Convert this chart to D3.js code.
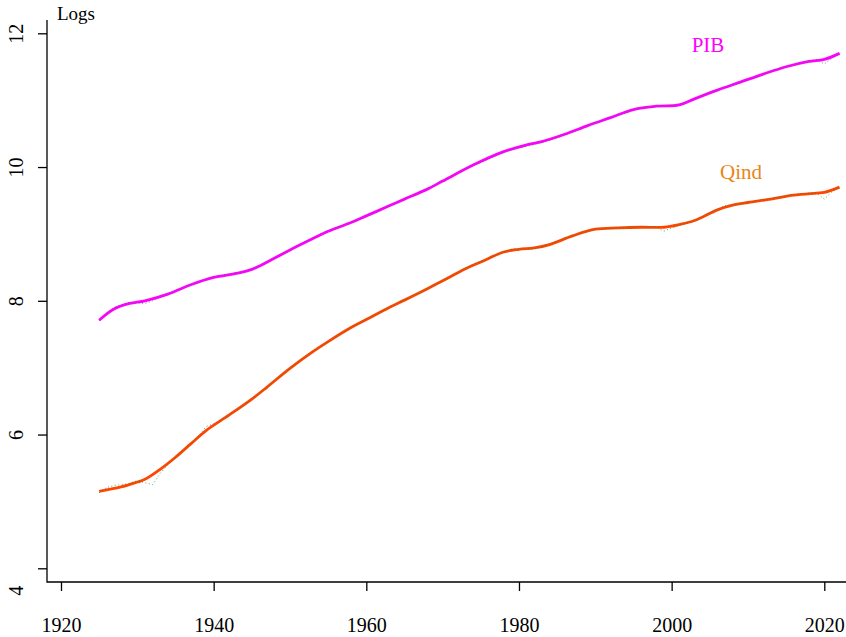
<!DOCTYPE html>
<html>
<head>
<meta charset="utf-8">
<script src="https://cdn.jsdelivr.net/npm/d3@7"></script>
<style>
  body { margin: 0; background: #fff; }
  .axis path, .axis line { stroke: #000; stroke-width: 1.3; }
</style>
</head>
<body>
<div id="chart"></div>
<script>
// annual series (logs)
var rawYears = d3.range(1925, 2023);
var rawPIB = [
  7.70, 7.82, 7.90, 7.94, 7.98, 7.97, 7.96, 8.00, 8.06, 8.10,
  8.15, 8.20, 8.24, 8.27, 8.33, 8.36, 8.38, 8.40, 8.42, 8.43,
  8.47, 8.53, 8.59, 8.64, 8.70, 8.76, 8.82, 8.88, 8.94, 9.00,
  9.05, 9.09, 9.13, 9.17, 9.22, 9.27, 9.32, 9.37, 9.42, 9.47,
  9.52, 9.57, 9.62, 9.67, 9.73, 9.80, 9.86, 9.92, 9.98, 10.03,
  10.07, 10.12, 10.17, 10.22, 10.26, 10.29, 10.31, 10.34, 10.37, 10.40,
  10.44, 10.48, 10.52, 10.57, 10.62, 10.66, 10.70, 10.74, 10.78, 10.82,
  10.86, 10.88, 10.90, 10.91, 10.91, 10.92, 10.94, 10.98, 11.02, 11.07,
  11.12, 11.16, 11.20, 11.24, 11.27, 11.30, 11.34, 11.38, 11.43, 11.47,
  11.50, 11.53, 11.56, 11.59, 11.61, 11.54, 11.63, 11.70
];
var rawQind = [
  5.13, 5.21, 5.24, 5.25, 5.27, 5.31, 5.28, 5.25, 5.42, 5.55,
  5.65, 5.77, 5.87, 5.97, 6.12, 6.16, 6.22, 6.30, 6.37, 6.45,
  6.52, 6.62, 6.71, 6.81, 6.90, 6.99, 7.08, 7.16, 7.24, 7.32,
  7.39, 7.46, 7.53, 7.60, 7.66, 7.72, 7.78, 7.84, 7.90, 7.96,
  8.01, 8.07, 8.12, 8.18, 8.24, 8.30, 8.36, 8.42, 8.49, 8.55,
  8.59, 8.63, 8.68, 8.73, 8.77, 8.78, 8.77, 8.78, 8.81, 8.85,
  8.89, 8.93, 8.97, 9.01, 9.05, 9.07, 9.08, 9.08, 9.09, 9.09,
  9.10, 9.11, 9.11, 9.10, 9.04, 9.09, 9.13, 9.16, 9.20, 9.25,
  9.31, 9.37, 9.42, 9.44, 9.44, 9.47, 9.49, 9.51, 9.53, 9.55,
  9.57, 9.59, 9.60, 9.61, 9.61, 9.52, 9.63, 9.71
];

// smoothed trends
var smoothPIBYears = [1925, 1927, 1929, 1931, 1934, 1937, 1940, 1943, 1945, 1948, 1950, 1953, 1955, 1958,
  1960, 1963, 1965, 1968, 1970, 1974, 1978, 1981, 1983, 1986, 1989, 1992, 1995, 1998, 2001, 2003,
  2006, 2009, 2012, 2015, 2018, 2020, 2022];
var smoothPIB = [7.71, 7.88, 7.96, 8.00, 8.10, 8.24, 8.35, 8.41, 8.47, 8.64, 8.76, 8.93, 9.04, 9.17,
  9.27, 9.42, 9.52, 9.67, 9.79, 10.03, 10.23, 10.33, 10.38, 10.49, 10.62, 10.74, 10.86, 10.91, 10.93, 11.02,
  11.15, 11.27, 11.39, 11.50, 11.58, 11.61, 11.70];
var smoothQindYears = [1925, 1928, 1930, 1931, 1933, 1935, 1937, 1939, 1942, 1945, 1947, 1950, 1953, 1955,
  1958, 1960, 1963, 1965, 1968, 1970, 1973, 1975, 1978, 1980, 1982, 1984, 1987, 1990, 1993, 1996,
  1999, 2001, 2003, 2006, 2008, 2010, 2013, 2016, 2019, 2020, 2022];
var smoothQind = [5.15, 5.22, 5.29, 5.33, 5.48, 5.66, 5.86, 6.06, 6.29, 6.53, 6.71, 6.99, 7.24, 7.39,
  7.60, 7.72, 7.90, 8.01, 8.18, 8.30, 8.48, 8.58, 8.73, 8.77, 8.79, 8.84, 8.97, 9.07, 9.09, 9.10,
  9.10, 9.14, 9.20, 9.36, 9.43, 9.47, 9.52, 9.58, 9.61, 9.62, 9.70];

var xTicks = [1920, 1940, 1960, 1980, 2000, 2020];
var yTicks = [4, 6, 8, 10, 12];

var width = 846,
    height = 637,
    serif = "'Liberation Serif', 'DejaVu Serif', serif";

var x = d3.scaleLinear()
    .domain([1920, 2020])
    .range([61, 824.3]);

var y = d3.scaleLinear()
    .domain([4, 12])
    .range([568.3, 33.3]);

var svg = d3.select("#chart").append("svg")
    .attr("width", width)
    .attr("height", height);

// L-shaped frame
svg.append("path")
    .attr("d", "M47,20V582H846")
    .attr("fill", "none")
    .attr("stroke", "#000")
    .attr("stroke-width", 1.3);

var xAxis = svg.append("g")
    .attr("class", "x axis")
    .attr("transform", "translate(0,582)")
    .call(d3.axisBottom(x).tickValues(xTicks).tickFormat(d3.format("d")).tickSize(9).tickSizeOuter(0));
xAxis.select(".domain").remove();
xAxis.selectAll("text")
    .attr("y", 50)
    .attr("dy", 0)
    .style("font-family", serif)
    .style("font-size", "20px")
    .attr("fill", "#000");

var yAxis = svg.append("g")
    .attr("class", "y axis")
    .attr("transform", "translate(47,0)")
    .call(d3.axisLeft(y).tickValues(yTicks).tickSize(9).tickSizeOuter(0));
yAxis.select(".domain").remove();
yAxis.selectAll("text")
    .attr("x", 0)
    .attr("dy", 0)
    .attr("transform", function(d) { return "translate(-24," + (d === 4 ? 22 : 0) + ") rotate(-90)"; })
    .attr("text-anchor", "middle")
    .style("font-family", serif)
    .style("font-size", "20px")
    .attr("fill", "#000");

svg.append("text")
    .attr("x", 57)
    .attr("y", 20)
    .style("font-family", serif)
    .style("font-size", "19px")
    .text("Logs");

function series(years, vals) {
  return years.map(function(d, i) { return [d, vals[i]]; });
}

var rawLine = d3.line()
    .x(function(d) { return x(d[0]); })
    .y(function(d) { return y(d[1]); });

var smoothLine = d3.line()
    .curve(d3.curveCatmullRom.alpha(0.5))
    .x(function(d) { return x(d[0]); })
    .y(function(d) { return y(d[1]); });

// smoothed trends
svg.append("path")
    .datum(series(smoothPIBYears, smoothPIB))
    .attr("d", smoothLine)
    .attr("fill", "none")
    .attr("stroke", "#ff00ff")
    .attr("stroke-width", 2.8);

svg.append("path")
    .datum(series(smoothQindYears, smoothQind))
    .attr("d", smoothLine)
    .attr("fill", "none")
    .attr("stroke", "#ff4500")
    .attr("stroke-width", 2.8);

// raw series, dotted, on top
svg.append("path")
    .datum(series(rawYears, rawPIB))
    .attr("d", rawLine)
    .attr("fill", "none")
    .attr("stroke", "#56687a")
    .attr("stroke-opacity", 0.8)
    .attr("stroke-width", 1)
    .attr("stroke-dasharray", "1,2.5");

svg.append("path")
    .datum(series(rawYears, rawQind))
    .attr("d", rawLine)
    .attr("fill", "none")
    .attr("stroke", "#2e8b2e")
    .attr("stroke-opacity", 0.8)
    .attr("stroke-width", 1)
    .attr("stroke-dasharray", "1,2.5");

svg.append("text")
    .attr("x", 708)
    .attr("y", 52)
    .attr("text-anchor", "middle")
    .attr("fill", "#ff00ff")
    .style("font-family", serif)
    .style("font-size", "21px")
    .text("PIB");

svg.append("text")
    .attr("x", 741)
    .attr("y", 179)
    .attr("text-anchor", "middle")
    .attr("fill", "#e8861a")
    .style("font-family", serif)
    .style("font-size", "21px")
    .text("Qind");
</script>
</body>
</html>
